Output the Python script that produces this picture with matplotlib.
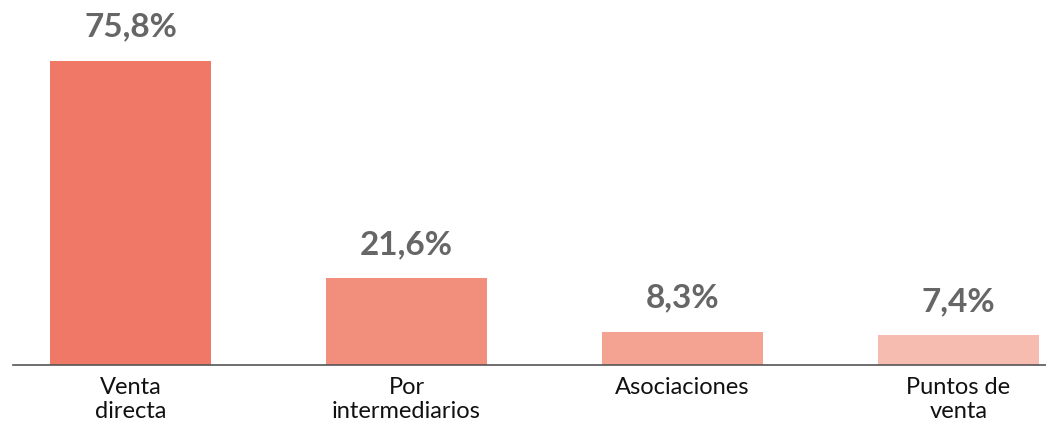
import matplotlib
matplotlib.use("Agg")
import matplotlib.pyplot as plt

categories = ["Venta\ndirecta", "Por\nintermediarios", "Asociaciones", "Puntos de\nventa"]
values = [75.8, 21.6, 8.3, 7.4]
value_labels = ["75,8%", "21,6%", "8,3%", "7,4%"]
colors = ["#EF7966", "#F28F7C", "#F4A393", "#F6BCB0"]

plt.rcParams["font.family"] = ["Lato", "DejaVu Sans"]

fig = plt.figure(figsize=(10.46, 4.30), dpi=100)
ax = fig.add_axes([13 / 1046, 65 / 430, 1 - 13 / 1046, 365 / 430])

x = range(len(categories))
bars = ax.bar(x, values, width=0.583, color=colors)

for b, lab in zip(bars, value_labels):
    ax.annotate(lab, (b.get_x() + b.get_width() / 2, b.get_height()),
                xytext=(0, 14), textcoords="offset points",
                ha="center", va="bottom", fontsize=24, fontweight="bold",
                color="#666666")

ax.set_xlim(-0.426, 3.317)
ax.set_ylim(0, 91)
ax.set_xticks(list(x))
ax.set_xticklabels(categories, fontsize=17, color="#111111", linespacing=1.12)
ax.tick_params(axis="x", length=0, pad=9)
ax.set_yticks([])
for sp in ["top", "right", "left"]:
    ax.spines[sp].set_visible(False)
ax.spines["bottom"].set_color("#555555")
ax.spines["bottom"].set_linewidth(1.2)

fig.savefig("out.png", dpi=100)
